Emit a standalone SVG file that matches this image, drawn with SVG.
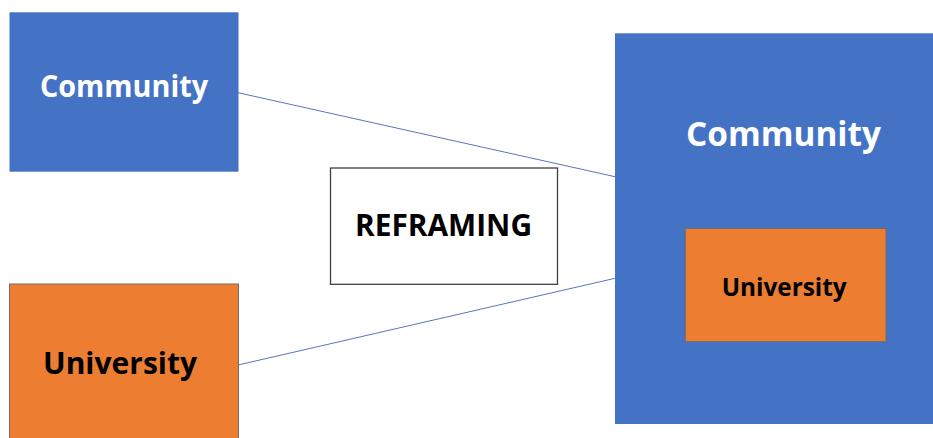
<svg xmlns="http://www.w3.org/2000/svg" width="933" height="438" viewBox="0 0 933 438">
  <style>
    .blue { fill: #4472C4; }
    .orange { fill: #ED7D31; stroke: #6E6E6E; stroke-width: 1; }
    .plain { fill: #FFFFFF; stroke: #404040; stroke-width: 1.3; }
    .lbl { font-family: "Open Sans", "Liberation Sans", sans-serif; font-weight: 700; text-anchor: middle; }
    .light { fill: #FFFFFF; }
    .dark { fill: #000000; }
    .link { stroke: #5677BC; stroke-width: 1; fill: none; }
  </style>
  <rect width="933" height="438" fill="#FFFFFF"/>

  <g id="connectors">
    <line class="link" x1="238" y1="92.7" x2="615" y2="176.7"/>
    <line class="link" x1="238" y1="365" x2="615" y2="278.3"/>
  </g>

  <g id="community-left">
    <rect class="blue" x="9.5" y="12.3" width="229" height="159.4"/>
    <text class="lbl light" x="124" y="96.5" font-size="31" textLength="168" lengthAdjust="spacingAndGlyphs">Community</text>
  </g>

  <g id="university-left">
    <rect class="orange" x="9.5" y="284" width="229" height="160"/>
    <text class="lbl dark" x="120" y="374" font-size="31" textLength="154" lengthAdjust="spacingAndGlyphs">University</text>
  </g>

  <g id="reframing">
    <rect class="plain" x="330.5" y="168" width="227" height="116.3"/>
    <text class="lbl dark" x="443.5" y="236" font-size="30" textLength="177" lengthAdjust="spacingAndGlyphs">REFRAMING</text>
  </g>

  <g id="community-right">
    <rect class="blue" x="615" y="33.3" width="330" height="390.7"/>
    <text class="lbl light" x="783.5" y="146" font-size="34" textLength="195" lengthAdjust="spacingAndGlyphs">Community</text>
  </g>

  <g id="university-inner">
    <rect class="orange" x="685.3" y="228.5" width="200.7" height="113.2"/>
    <text class="lbl dark" x="784.2" y="296" font-size="24.5" textLength="125" lengthAdjust="spacingAndGlyphs">University</text>
  </g>
</svg>
